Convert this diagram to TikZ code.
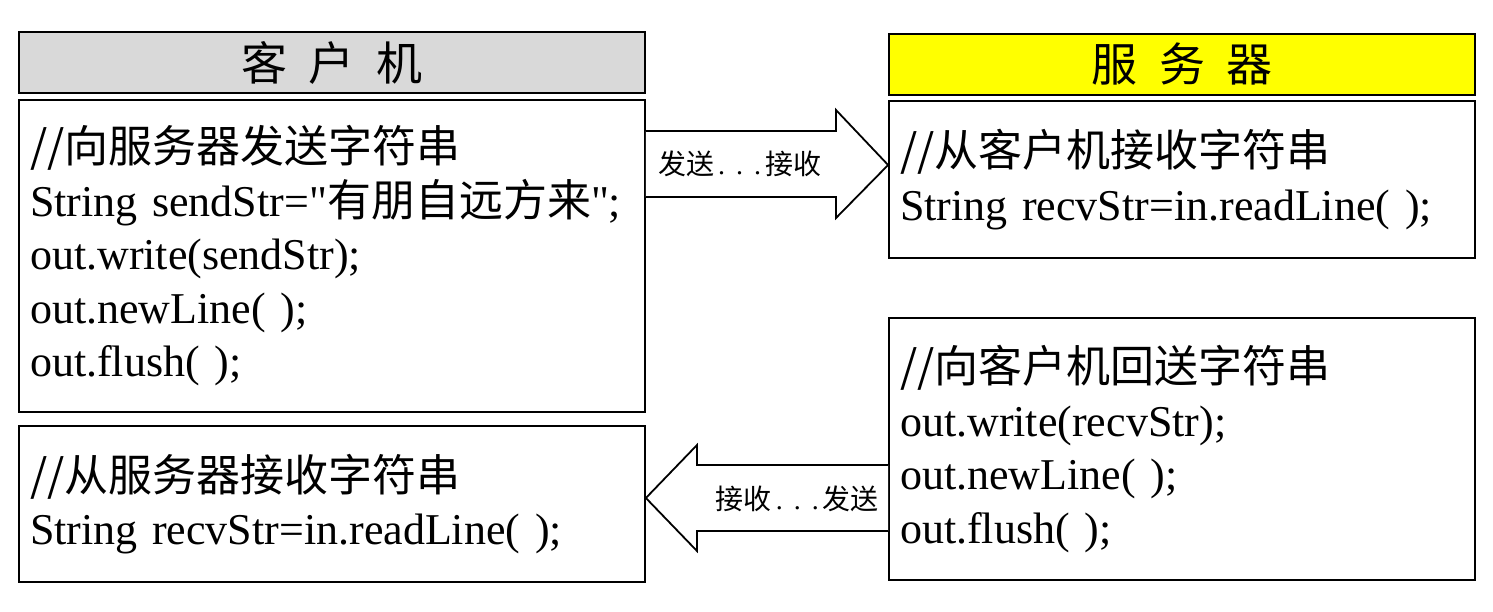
\documentclass[tikz,border=0pt]{standalone}
\usepackage{fontspec}
\setmainfont{Liberation Serif}[Ligatures=TeXOff]
\newfontfamily\cjk{Noto Sans CJK SC}
\newcommand\zhs[1]{{\cjk #1}}
\definecolor{hdrgray}{HTML}{D9D9D9}
\definecolor{hdryellow}{HTML}{FFFF00}
\begin{document}
\begin{tikzpicture}[x=1pt,y=-1pt,
  hdr/.style={draw=black, line width=1.8pt, inner sep=0pt, font=\cjk\fontsize{46}{50}\selectfont},
  codebox/.style={draw=black, line width=1.8pt, inner ysep=0pt, inner xsep=11pt, align=left,
    font=\fontsize{44}{53.5}\selectfont},
  bigarrow/.style={draw=black, line width=1.8pt, line join=miter, fill=white},
  arrlabel/.style={inner sep=0pt, font=\fontsize{28}{32}\selectfont}]
\useasboundingbox (0,0) rectangle (1493,611);
\fill[white] (0,0) rectangle (1493,611);
% client
\node[hdr, fill=hdrgray, minimum width=626pt, minimum height=61pt] (ch) at (332,62.5)
  {客\hspace{22pt}户\hspace{22pt}机};
\node[codebox, text width=604pt, minimum height=312pt] (cb1) at (332,256)
  {\zhs{//向服务器发送字符串}\\
   String sendStr="\zhs{有朋自远方来}";\\
   out.write(sendStr);\\
   out.newLine( );\\
   out.flush( );};
\node[codebox, text width=604pt, minimum height=156pt] (cb2) at (332,504)
  {\zhs{//从服务器接收字符串}\\
   String recvStr=in.readLine( );};
% server
\node[hdr, fill=hdryellow, minimum width=586pt, minimum height=61pt] (sh) at (1182,64.5)
  {服\hspace{22pt}务\hspace{22pt}器};
\node[codebox, text width=564pt, minimum height=157pt] (sb1) at (1182,179.5)
  {\zhs{//从客户机接收字符串}\\
   String recvStr=in.readLine( );};
\node[codebox, text width=564pt, minimum height=262pt] (sb2) at (1182,449)
  {\zhs{//向客户机回送字符串}\\
   out.write(recvStr);\\
   out.newLine( );\\
   out.flush( );};
% arrows
\draw[bigarrow] (cb1.east |- 0,131) -- (836,131) -- (836,110) -- (sb1.west |- 0,165)
  -- (836,218) -- (836,197) -- (cb1.east |- 0,197);
\draw[bigarrow] (sb2.west |- 0,465) -- (697,465) -- (697,445) -- (cb2.east |- 0,498)
  -- (697,551) -- (697,531) -- (sb2.west |- 0,531);
\node[arrlabel, anchor=west] (l1) at (658,164)
  {\zhs{发送}\hspace{4pt}.\hspace{11pt}.\hspace{11pt}.\hspace{4pt}\zhs{接收}};
\node[arrlabel, anchor=east] (l2) at (879,499)
  {\zhs{接收}\hspace{4pt}.\hspace{11pt}.\hspace{11pt}.\hspace{4pt}\zhs{发送}};
\end{tikzpicture}
\end{document}
